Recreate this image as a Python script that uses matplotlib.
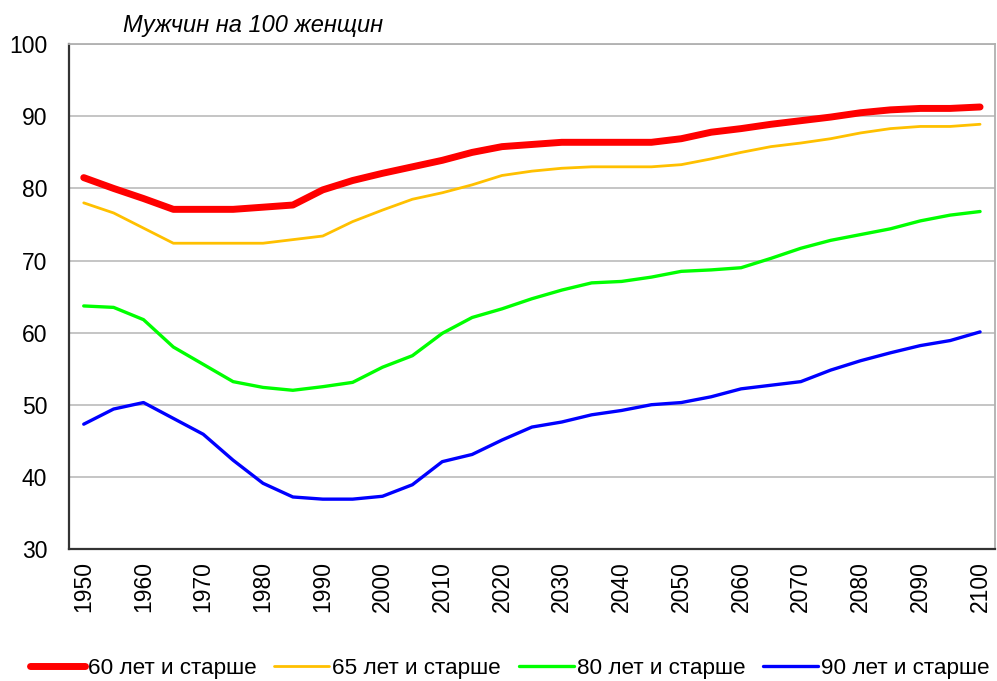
import matplotlib
matplotlib.use("Agg")
import matplotlib.pyplot as plt
import numpy as np

years = list(range(1950, 2101, 5))

s60 = [81.5, 80.0, 78.6, 77.1, 77.1, 77.1, 77.4, 77.7, 79.8, 81.1, 82.1, 83.0,
       83.9, 85.0, 85.8, 86.1, 86.4, 86.4, 86.4, 86.4, 86.9, 87.8, 88.3, 88.9,
       89.4, 89.9, 90.5, 90.9, 91.1, 91.1, 91.3]
s65 = [78.0, 76.6, 74.5, 72.4, 72.4, 72.4, 72.4, 72.9, 73.4, 75.4, 77.0, 78.5,
       79.4, 80.5, 81.8, 82.4, 82.8, 83.0, 83.0, 83.0, 83.3, 84.1, 85.0, 85.8,
       86.3, 86.9, 87.7, 88.3, 88.6, 88.6, 88.9]
s80 = [63.7, 63.5, 61.8, 58.0, 55.6, 53.2, 52.4, 52.0, 52.5, 53.1, 55.2, 56.8,
       59.9, 62.1, 63.3, 64.7, 65.9, 66.9, 67.1, 67.7, 68.5, 68.7, 69.0, 70.3,
       71.7, 72.8, 73.6, 74.4, 75.5, 76.3, 76.8]
s90 = [47.3, 49.4, 50.3, 48.1, 45.9, 42.3, 39.1, 37.2, 36.9, 36.9, 37.3, 38.9,
       42.1, 43.1, 45.1, 46.9, 47.6, 48.6, 49.2, 50.0, 50.3, 51.1, 52.2, 52.7,
       53.2, 54.8, 56.1, 57.2, 58.2, 58.9, 60.1]

labels = ["60 лет и старше", "65 лет и старше", "80 лет и старше", "90 лет и старше"]
colors = ["#FF0000", "#FFC000", "#00FF00", "#0000FF"]
widths = [5.0, 2.0, 2.4, 2.4]
title = "Мужчин на 100 женщин"
xticks = list(range(1950, 2101, 10))
yticks = list(range(30, 101, 10))

plt.rcParams['font.family'] = ['Liberation Sans', 'DejaVu Sans']

fig = plt.figure(figsize=(9.97, 6.81), dpi=100)
ax = fig.add_axes([0.069, 0.194, 0.929, 0.741])

for s, lab, c, w in zip([s60, s65, s80, s90], labels, colors, widths):
    ax.plot(years, s, color=c, lw=w, label=lab, solid_capstyle='round', zorder=3)

ax.set_xlim(1947.5, 2102.5)
ax.set_ylim(30, 100)
ax.set_yticks(yticks)
ax.set_xticks(xticks)
ax.set_xticklabels([str(x) for x in xticks], rotation=90, fontsize=16.5)
ax.tick_params(axis='y', labelsize=16.5, length=0, pad=15.5)
ax.tick_params(axis='x', length=0, pad=9)
ax.grid(axis='y', color='#C0C0C0', lw=1.3, zorder=1)
ax.set_axisbelow(True)
for sp in ['left', 'bottom']:
    ax.spines[sp].set_color('#333333')
    ax.spines[sp].set_linewidth(1.6)
for sp in ['top', 'right']:
    ax.spines[sp].set_color('#B0B0B0')
    ax.spines[sp].set_linewidth(1.3)

fig.text(0.123, 0.962, title, fontsize=17, style='italic', ha='left', va='center')

fig.legend(loc='center left', bbox_to_anchor=(0.030, 0.018), ncol=4, frameon=False,
           fontsize=16.2, handlelength=2.45, handletextpad=0.13, columnspacing=0.78,
           borderpad=0, borderaxespad=0)

fig.savefig("out.png", dpi=100)
